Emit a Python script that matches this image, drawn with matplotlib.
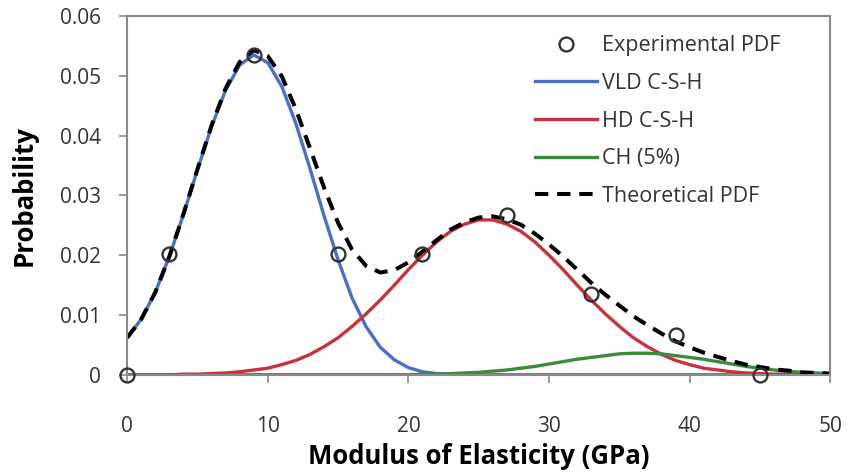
#!/usr/bin/env python3
"""
Nanoindentation modulus distribution: experimental PDF vs. fitted phases
"""
import numpy as np
import matplotlib
matplotlib.use('Agg')
import matplotlib.pyplot as plt

# modulus grid (GPa)
E = list(range(0, 51))

# VLD C-S-H component
vld = [0.0062, 0.0093, 0.0138, 0.0198, 0.0268, 0.0343, 0.0415, 0.0476, 0.0518, 0.0535,
       0.0522, 0.0482, 0.0420, 0.0345, 0.0266, 0.0192, 0.0128, 0.0080, 0.0046, 0.0025,
       0.0012, 0.0005, 0.0002, 0.0001, 0.0, 0.0, 0.0, 0.0, 0.0, 0.0,
       0.0, 0.0, 0.0, 0.0, 0.0, 0.0, 0.0, 0.0, 0.0, 0.0,
       0.0, 0.0, 0.0, 0.0, 0.0, 0.0, 0.0, 0.0, 0.0, 0.0, 0.0]

# HD C-S-H component
hd = [0.0, 0.0, 0.0, 0.0, 0.0001, 0.0001, 0.0002, 0.0003, 0.0005, 0.0008,
      0.0011, 0.0017, 0.0024, 0.0034, 0.0047, 0.0062, 0.0081, 0.0102, 0.0125, 0.0150,
      0.0176, 0.0200, 0.0222, 0.0240, 0.0252, 0.0259, 0.0259, 0.0252, 0.0240, 0.0222,
      0.0200, 0.0176, 0.0150, 0.0125, 0.0102, 0.0081, 0.0062, 0.0047, 0.0034, 0.0024,
      0.0017, 0.0011, 0.0008, 0.0005, 0.0003, 0.0002, 0.0001, 0.0001, 0.0, 0.0, 0.0]

# CH component
ch = [0.0, 0.0, 0.0, 0.0, 0.0, 0.0, 0.0, 0.0, 0.0, 0.0,
      0.0, 0.0, 0.0, 0.0, 0.0, 0.0, 0.0, 0.0, 0.0, 0.0,
      0.0, 0.0001, 0.0001, 0.0002, 0.0003, 0.0004, 0.0006, 0.0008, 0.0011, 0.0014,
      0.0018, 0.0022, 0.0026, 0.0029, 0.0032, 0.0035, 0.0036, 0.0036, 0.0035, 0.0032,
      0.0029, 0.0026, 0.0022, 0.0018, 0.0014, 0.0011, 0.0008, 0.0006, 0.0004, 0.0003, 0.0002]

# theoretical PDF
theo = [0.0062, 0.0093, 0.0138, 0.0198, 0.0269, 0.0344, 0.0417, 0.0479, 0.0523, 0.0543,
        0.0533, 0.0499, 0.0444, 0.0379, 0.0313, 0.0254, 0.0209, 0.0182, 0.0171, 0.0175,
        0.0188, 0.0206, 0.0225, 0.0243, 0.0255, 0.0263, 0.0265, 0.0260, 0.0251, 0.0236,
        0.0218, 0.0198, 0.0176, 0.0154, 0.0134, 0.0116, 0.0098, 0.0083, 0.0069, 0.0056,
        0.0046, 0.0037, 0.0030, 0.0023, 0.0017, 0.0013, 0.0009, 0.0007, 0.0004, 0.0003, 0.0002]

# experimental PDF
exp_E = [0, 3, 9, 15, 21, 27, 33, 39, 45]
exp_p = [0.0, 0.0202, 0.0535, 0.0202, 0.0202, 0.0268, 0.0135, 0.0066, 0.0]

# setup figure
plt.rc('font', family=['Open Sans', 'DejaVu Sans'])
fig = plt.figure(figsize=(8.48, 4.72), dpi=100)
ax = fig.add_axes([0.150, 0.206, 0.829, 0.760])
gray = '#8a8a8a'
for s in ax.spines.values():
    s.set_color(gray)
    s.set_linewidth(1.5)

# components
ax.plot(E, vld, color='#4a6fc7', lw=2.4, label='VLD C-S-H')
ax.plot(E, hd, color='#c8323a', lw=2.4, label='HD C-S-H')
ax.plot(E, ch, color='#3c8a3c', lw=2.4, label='CH (5%)')
ax.plot(E, theo, color='k', lw=2.9, dashes=(3.3, 2.2), label='Theoretical PDF')
ax.plot(exp_E, exp_p, 'o', mfc='none', mec='#333333', mew=1.7, ms=10,
        label='Experimental PDF', clip_on=False, zorder=5)

# axes
ax.set_xlim(0, 50)
ax.set_ylim(0, 0.06)
ax.set_xticks([0, 10, 20, 30, 40, 50])
ax.set_yticks([0, 0.01, 0.02, 0.03, 0.04, 0.05, 0.06])
ax.set_yticklabels(['0', '0.01', '0.02', '0.03', '0.04', '0.05', '0.06'])
ax.tick_params(direction='out', length=6, width=1.2, color=gray,
               labelsize=15, labelcolor='#333333')
ax.tick_params(axis='x', pad=24)
ax.tick_params(axis='y', pad=13)
ax.set_xlabel('Modulus of Elasticity (GPa)', fontsize=18.5, fontweight='bold', labelpad=4)
ax.set_ylabel('Probability', fontsize=18.5, fontweight='bold', labelpad=16)

# legend
h, l = ax.get_legend_handles_labels()
order = [4, 0, 1, 2, 3]
ax.legend([h[i] for i in order], [l[i] for i in order], loc='upper right',
          bbox_to_anchor=(0.942, 0.97), borderaxespad=0,
          frameon=False, fontsize=15.5, handlelength=2.9, handletextpad=0.25,
          labelspacing=0.77, labelcolor='#333333')

# finish up
fig.savefig('out.png', dpi=100)
